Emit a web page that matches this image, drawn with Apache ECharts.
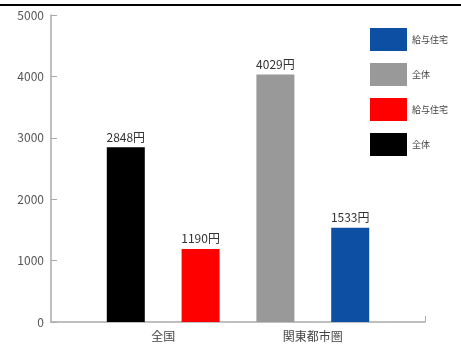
<!DOCTYPE html>
<html><head><meta charset="utf-8">
<script src="https://cdn.jsdelivr.net/npm/echarts@6/dist/echarts.min.js"></script>
<style>html,body{margin:0;padding:0;background:#fff}#c{width:461px;height:354px}</style>
</head><body><div id="c"></div>
<script>
var categories = ['全国', '関東都市圏'];
var seriesNames = ['全体', '給与住宅', '全体', '給与住宅'];
var seriesKeys = ['全国・全体', '全国・給与住宅', '関東都市圏・全体', '関東都市圏・給与住宅'];
var seriesValues = [2848, 1190, 4029, 1533];
var seriesPositions = [1, 2, 3, 4];
var categoryPositions = [1.5, 3.5];
var colors = ['#000000', '#ff0000', '#999999', '#0d4fa3'];
var yTicks = [0, 1000, 2000, 3000, 4000, 5000];

var font = '"Noto Sans CJK JP", "Liberation Sans", sans-serif';
var chart = echarts.init(document.getElementById('c'));
var series = seriesKeys.map(function (k, i) {
  return {
    name: k, type: 'bar', stack: 'all', barWidth: 38,
    data: [[seriesPositions[i], seriesValues[i]]],
    itemStyle: { color: colors[i] },
    label: { show: true, position: 'top', distance: 4, color: '#333', fontSize: 12, fontFamily: font,
      formatter: function (p) { return p.value[1] + '円'; } }
  };
});
chart.setOption({
  animation: false,
  grid: { left: 51, right: 36, top: 15, bottom: 32 },
  xAxis: {
    type: 'value', min: 0, max: 5,
    axisLine: { show: true, lineStyle: { color: '#aaaaaa', width: 1.5 } },
    axisTick: { show: true, inside: true, length: 6, customValues: [5], lineStyle: { color: '#aaaaaa' } },
    splitLine: { show: false },
    axisLabel: { customValues: categoryPositions, margin: 8, color: '#444', fontSize: 12, fontFamily: font,
      formatter: function (v) { var i = categoryPositions.indexOf(v); return i >= 0 ? categories[i] : ''; } }
  },
  yAxis: {
    type: 'value', min: yTicks[0], max: yTicks[yTicks.length - 1], interval: 1000,
    axisLine: { show: true, lineStyle: { color: '#aaaaaa', width: 1.5 } },
    axisTick: { show: true, inside: true, length: 6, lineStyle: { color: '#aaaaaa' } },
    splitLine: { show: false },
    axisLabel: { margin: 7, color: '#555', fontSize: 12, fontFamily: font,
      formatter: function (v) { return String(v); } }
  },
  legend: {
    orient: 'vertical', left: 365, top: 23, itemWidth: 37, itemHeight: 23, itemGap: 12,
    data: seriesKeys.slice().reverse(),
    icon: 'rect',
    textStyle: { fontSize: 9, color: '#444', fontFamily: font },
    formatter: function (n) { return seriesNames[seriesKeys.indexOf(n)]; }
  },
  graphic: [{ type: 'rect', shape: { x: 0, y: 4, width: 461, height: 2 }, style: { fill: '#000' } }],
  series: series
});
</script></body></html>
